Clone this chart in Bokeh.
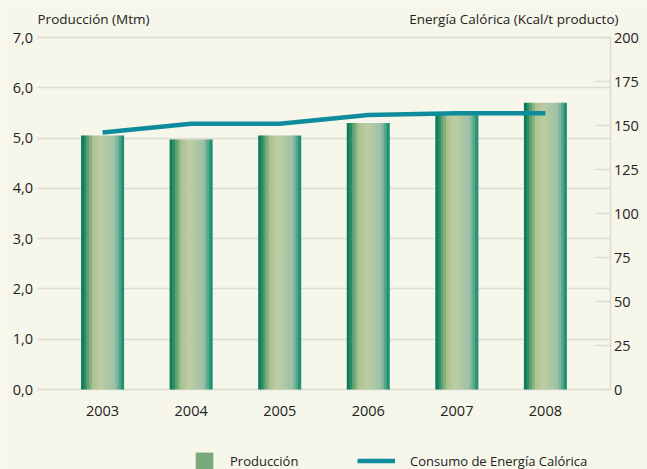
from bokeh.plotting import figure
from bokeh.models import (ColumnDataSource, FactorRange, Range1d, LinearAxis,
                          FixedTicker, Label, Legend, LegendItem)
from bokeh.transform import dodge
from bokeh.embed import file_html
from bokeh.resources import INLINE

# ---- data ----
years = ["2003", "2004", "2005", "2006", "2007", "2008"]
produccion = [5.05, 4.97, 5.05, 5.30, 5.52, 5.70]
energia = [146, 151, 151, 156, 157, 157]
left_ticks = [0, 1, 2, 3, 4, 5, 6, 7]
left_labels = ["0,0", "1,0", "2,0", "3,0", "4,0", "5,0", "6,0", "7,0"]
right_ticks = [0, 25, 50, 75, 100, 125, 150, 175, 200]
left_max, right_max = 7, 200

# ---- style / layout ----
W, H = 647, 469
PL, PR, PT, PB = 37, 618, 37, 389      # plot area in canvas pixels
SIDE_PAD = 0.24                          # category padding inside plot area
BG = "#f6f6ea"
FONT = "Open Sans"
TXT = "#222222"
GRID = "#dcdcd2"
LINE = "#0f8c9c"
BAR_W = 0.48
N_STRIPS = 16
# gradient stops across a bar (position, colour)
grad_stops = [(0.00, "#007a58"), (0.06, "#148060"), (0.15, "#5a9e6e"),
              (0.28, "#a8c290"), (0.45, "#bfcca2"), (0.65, "#aac6a4"),
              (0.80, "#9ec0a8"), (0.90, "#5aa88c"), (1.00, "#078a68")]


def _hex(c):
    return [int(c[i:i + 2], 16) for i in (1, 3, 5)]


def grad_color(t):
    for (p0, c0), (p1, c1) in zip(grad_stops[:-1], grad_stops[1:]):
        if p0 <= t <= p1:
            f = (t - p0) / (p1 - p0) if p1 > p0 else 0
            a, b = _hex(c0), _hex(c1)
            return "#%02x%02x%02x" % tuple(round(x + (y - x) * f) for x, y in zip(a, b))
    return grad_stops[-1][1]


n_cat = len(years)
px_per_cat = (PR - PL) / (n_cat + 2 * SIDE_PAD)
x_pad = SIDE_PAD + PL / px_per_cat
px_per_unit = (PB - PT) / left_max
y_start = -(H - PB) / px_per_unit
y_end = left_max + PT / px_per_unit
k = right_max / left_max

src = ColumnDataSource(dict(year=years, prod=produccion, energia=energia))

p = figure(width=W, height=H,
           x_range=FactorRange(factors=years, range_padding=x_pad,
                               range_padding_units="absolute"),
           y_range=Range1d(y_start, y_end),
           output_backend="svg", toolbar_location=None,
           min_border_left=0, min_border_right=0,
           min_border_top=0, min_border_bottom=0,
           background_fill_color=BG, border_fill_color=BG,
           outline_line_color=None)

p.extra_y_ranges = {"energy": Range1d(y_start * k, y_end * k)}

# bars built from thin vertical strips to mimic the gradient fill
sw = BAR_W / N_STRIPS
strips = []
for i in range(N_STRIPS):
    t = (i + 0.5) / N_STRIPS
    off = -BAR_W / 2 + sw * (i + 0.5)
    c = grad_color(t)
    r = p.vbar(x=dodge("year", off, range=p.x_range), top="prod",
               width=sw * 1.2, bottom=0, fill_color=c, line_color=None,
               source=src)
    strips.append(r)

legend_bar = p.vbar(x=dodge("year", 0, range=p.x_range), top="prod", width=0.0,
                    fill_color="#78aa7c", line_color=None, source=src)

line_r = p.line(x="year", y="energia", y_range_name="energy", line_color=LINE,
                line_width=4.5, source=src)

# left axis
ly = p.left[0]
ly.fixed_location = -SIDE_PAD
ly.ticker = FixedTicker(ticks=left_ticks)
ly.major_label_overrides = {t: l for t, l in zip(left_ticks, left_labels)}
ly.axis_line_color = None
ly.major_tick_line_color = None
ly.major_tick_out = 0
ly.major_tick_in = 0
ly.minor_tick_line_color = None
ly.major_label_standoff = 4
ly.major_label_text_font = FONT
ly.major_label_text_font_size = "14.5px"
ly.major_label_text_color = TXT

# bottom axis
bx = p.below[0]
bx.fixed_location = 0
bx.axis_line_color = None
bx.major_tick_line_color = None
bx.major_tick_out = 0
bx.major_tick_in = 0
bx.major_label_standoff = 16
bx.major_label_text_font = FONT
bx.major_label_text_font_size = "14.5px"
bx.major_label_text_color = TXT

# right axis
raxis = LinearAxis(y_range_name="energy", ticker=FixedTicker(ticks=right_ticks),
                   fixed_location=n_cat + SIDE_PAD, bounds=(0, right_max),
                   axis_line_color=GRID, axis_line_width=1.5,
                   major_tick_line_color=GRID, major_tick_line_width=1.5,
                   major_tick_in=15, major_tick_out=0,
                   minor_tick_line_color=None, major_label_standoff=3,
                   major_label_text_font=FONT, major_label_text_font_size="14.5px",
                   major_label_text_color=TXT)
p.add_layout(raxis, "right")

p.xgrid.grid_line_color = None
p.ygrid.ticker = FixedTicker(ticks=left_ticks)
p.ygrid.grid_line_color = GRID
p.ygrid.grid_line_width = 1.5
p.ygrid.cross_bounds = (-SIDE_PAD, n_cat + SIDE_PAD)

# axis titles
title_kw = dict(y=left_max, x_units="screen", y_units="data", y_offset=19,
                text_baseline="middle", text_font=FONT, text_font_size="13.5px",
                text_color=TXT)
p.add_layout(Label(x=PL, text="Producción (Mtm)", text_align="left", **title_kw))
p.add_layout(Label(x=PR, text="Energía Calórica (Kcal/t producto)",
                   text_align="right", **title_kw))

# legends
common = dict(glyph_height=21, label_height=21, label_standoff=15, padding=0,
              margin=0, background_fill_alpha=0, border_line_color=None,
              label_text_font=FONT, label_text_font_size="13px",
              label_text_color=TXT)
leg1 = Legend(items=[LegendItem(label="Producción", renderers=[legend_bar])],
              location=(193, -2), glyph_width=22, **common)
leg2 = Legend(items=[LegendItem(label="Consumo de Energía Calórica", renderers=[line_r])],
              location=(357, -2), glyph_width=38, **common)
p.add_layout(leg1, "center")
p.add_layout(leg2, "center")

open("out.html", "w").write(file_html(p, INLINE))
